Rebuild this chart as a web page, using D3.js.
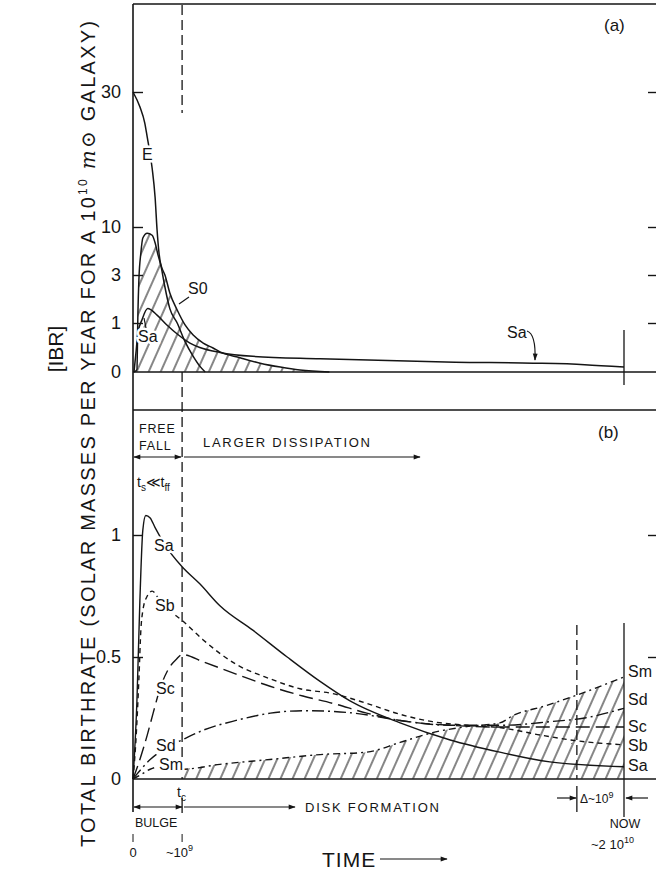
<!DOCTYPE html>
<html>
<head>
<meta charset="utf-8">
<script src="https://cdn.jsdelivr.net/npm/d3@7"></script>
<style>
  body { margin: 0; background: #fff; }
  text { font-family: "Liberation Sans", "DejaVu Sans", sans-serif; fill: #151515; }
</style>
</head>
<body>
<div id="chart"></div>
<script>
// time in schematic units: t_c = 1, NOW = 10
// panel (a) : birthrate, [t, value]
const aE  = [[0,30],[0.14,27.8],[0.24,25.4],[0.29,23.3],[0.39,18.7],[0.45,14.4],[0.49,9.6],[0.53,6.2],[0.59,3.6],[0.65,2.5],[0.75,1.6],[0.9,1.0],[1.06,0.62],[1.22,0.33],[1.36,0.12],[1.47,0]];
const aS0 = [[0.02,0],[0.08,0.05],[0.1,1.4],[0.12,2.8],[0.16,6.2],[0.2,8.4],[0.29,9.1],[0.39,8.8],[0.45,7.7],[0.51,5.9],[0.59,4.0],[0.65,3.0],[0.75,2.25],[0.9,1.54],[1.06,0.96],[1.22,0.76],[1.43,0.59],[1.63,0.49],[1.77,0.41],[2.18,0.29],[2.59,0.18],[3.0,0.1],[3.4,0.04],[4.0,0]];
const aSa = [[0.02,0],[0.06,0.39],[0.1,0.8],[0.18,1.12],[0.3,1.6],[0.49,1.33],[0.69,0.96],[0.92,0.76],[1.16,0.59],[1.36,0.5],[1.77,0.4],[2.44,0.32],[3.81,0.27],[6.56,0.2],[8.15,0.18],[9.2,0.15],[10,0.1]];
const aTicks = [0, 1, 3, 10, 30];

// panel (b)
const bSa = [[0,0],[0.08,0.32],[0.14,0.73],[0.2,1.02],[0.26,1.08],[0.35,1.07],[0.45,1.03],[0.65,0.96],[1.0,0.87],[1.36,0.8],[1.77,0.71],[2.44,0.61],[3.14,0.5],[3.81,0.4],[4.42,0.32],[5.44,0.23],[6.46,0.16],[7.47,0.11],[8.49,0.07],[10,0.05]];
const bSb = [[0,0],[0.06,0.16],[0.12,0.41],[0.16,0.61],[0.2,0.69],[0.29,0.75],[0.39,0.77],[0.55,0.73],[0.75,0.69],[1.0,0.65],[1.43,0.57],[2.1,0.47],[2.8,0.41],[3.4,0.37],[4.07,0.35],[4.76,0.31],[5.44,0.265],[6.1,0.235],[6.8,0.22],[7.5,0.21],[8.3,0.18],[9.1,0.155],[10,0.14]];
const bSc = [[0,0],[0.14,0.08],[0.29,0.18],[0.41,0.27],[0.55,0.37],[0.75,0.46],[0.88,0.49],[1.0,0.51],[1.43,0.48],[2.1,0.43],[2.79,0.38],[3.46,0.34],[4.07,0.31],[4.76,0.27],[5.44,0.24],[6.46,0.22],[7.5,0.213],[8.7,0.213],[10,0.213]];
const bSd = [[0,0],[0.08,0.02],[0.35,0.08],[0.7,0.13],[1.0,0.16],[1.43,0.2],[2.1,0.24],[2.8,0.27],[3.5,0.28],[4.5,0.27],[5.44,0.24],[6.46,0.22],[7.5,0.22],[8.5,0.235],[9.2,0.25],[10,0.29]];
const bSm = [[0,0],[0.14,0.015],[0.35,0.04],[0.55,0.05],[1.0,0.04],[1.77,0.06],[2.79,0.08],[3.81,0.1],[4.76,0.11],[5.44,0.15],[6.1,0.19],[6.8,0.215],[7.47,0.23],[7.74,0.26],[8.4,0.3],[9.04,0.344],[10,0.418]];
const bTicks = [0, 0.5, 1];

const tC = 1, tDelta = 9.04, tNow = 10;

const W = 656, H = 871;
const svg = d3.select("#chart").append("svg").attr("width", W).attr("height", H);

const x = d3.scaleLinear().domain([0, 10]).range([133, 624]);
const ya = d3.scaleLinear().domain(aTicks).range([372, 323, 275, 227, 92]);
const yb = d3.scaleLinear().domain([0, 1]).range([779, 535]);

const defs = svg.append("defs");
const hatch = defs.append("pattern")
  .attr("id", "hatch")
  .attr("patternUnits", "userSpaceOnUse")
  .attr("width", 11).attr("height", 11)
  .attr("patternTransform", "rotate(24)");
hatch.append("line")
  .attr("x1", 1).attr("y1", 0).attr("x2", 1).attr("y2", 11)
  .attr("stroke", "#222").attr("stroke-width", 1.1);

defs.append("marker")
  .attr("id", "arr")
  .attr("viewBox", "0 0 10 10")
  .attr("refX", 9).attr("refY", 5)
  .attr("markerWidth", 9).attr("markerHeight", 7)
  .attr("markerUnits", "userSpaceOnUse")
  .attr("orient", "auto-start-reverse")
  .append("path").attr("d", "M0,1.5 L10,5 L0,8.5 Z").attr("fill", "#151515");

const ink = "#151515";

// frame lines
function hline(y, x1, x2) {
  svg.append("line").attr("x1", x1).attr("x2", x2).attr("y1", y).attr("y2", y)
    .attr("stroke", ink).attr("stroke-width", 1.6);
}
hline(4, 133, W);
hline(ya(0), 133, W);
hline(410, 133, W);
hline(yb(0), 133, W);
svg.append("line").attr("x1", 133).attr("x2", 133).attr("y1", 4).attr("y2", 812)
  .attr("stroke", ink).attr("stroke-width", 1.6);

// axes (ticks inward)
const axA = svg.append("g").attr("transform", "translate(133,0)")
  .call(d3.axisLeft(ya).tickValues(aTicks).tickSizeInner(-10).tickSizeOuter(0).tickPadding(12).tickFormat(d3.format("d")));
const axB = svg.append("g").attr("transform", "translate(133,0)")
  .call(d3.axisLeft(yb).tickValues(bTicks).tickSizeInner(-10).tickSizeOuter(0).tickPadding(12).tickFormat(d => d === 0.5 ? "0.5" : d));
const axAR = svg.append("g").attr("transform", `translate(${W},0)`)
  .call(d3.axisRight(ya).tickValues(aTicks.slice(1)).tickSizeInner(-8).tickSizeOuter(0).tickFormat(""));
const axBR = svg.append("g").attr("transform", `translate(${W},0)`)
  .call(d3.axisRight(yb).tickValues([0.5, 1]).tickSizeInner(-8).tickSizeOuter(0).tickFormat(""));
[axA, axB, axAR, axBR].forEach(g => {
  g.select(".domain").remove();
  g.selectAll("line").attr("stroke", ink).attr("stroke-width", 1.4);
  g.selectAll("text").attr("font-size", 18).attr("fill", ink).style("font-family", "'Liberation Sans', sans-serif");
});
axB.selectAll(".tick").filter(d => d === 0).select("line").remove();
axA.selectAll(".tick").filter(d => d === 0).select("line").remove();

// hatched areas
const areaA = d3.area().x(d => x(d[0])).y0(ya(0)).y1(d => ya(d[1])).curve(d3.curveMonotoneX);
svg.append("path").datum(aS0).attr("d", areaA).attr("fill", "url(#hatch)");
const areaB = d3.area().x(d => x(d[0])).y0(yb(0)).y1(d => yb(d[1])).curve(d3.curveMonotoneX);
svg.append("path").datum(bSm.filter(d => d[0] >= tC)).attr("d", areaB).attr("fill", "url(#hatch)");

// vertical markers
function vline(t, y1, y2, dash, w) {
  svg.append("line").attr("x1", x(t)).attr("x2", x(t)).attr("y1", y1).attr("y2", y2)
    .attr("stroke", ink).attr("stroke-width", w || 1.3).attr("stroke-dasharray", dash);
}
vline(tC, 5, 113, "10,5");
vline(tC, ya(0), yb(0), "10,5");
vline(tC, 798, 813, null);
vline(tNow, 330, 385, null);
vline(tNow, 623, 817, null);
vline(tDelta, 625, yb(0), "10,5");
vline(tDelta, 786, 812, null);
vline(0, 834, 842, null, 1);
vline(tC, 834, 842, null, 1);

// curves
const lineA = d3.line().x(d => x(d[0])).y(d => ya(d[1])).curve(d3.curveMonotoneX);
const lineB = d3.line().x(d => x(d[0])).y(d => yb(d[1])).curve(d3.curveMonotoneX);
[aE, aS0, aSa].forEach(s => {
  svg.append("path").datum(s).attr("d", lineA).attr("fill", "none")
    .attr("stroke", ink).attr("stroke-width", 1.5);
});
const seriesB = [
  { data: bSa, dash: null },
  { data: bSb, dash: "5,4" },
  { data: bSc, dash: "14,6" },
  { data: bSd, dash: "12,4,2,4" },
  { data: bSm, dash: "7,4,2,4" }
];
seriesB.forEach(s => {
  svg.append("path").datum(s.data).attr("d", lineB).attr("fill", "none")
    .attr("stroke", ink).attr("stroke-width", 1.4).attr("stroke-dasharray", s.dash);
});

// labels with white halo (breaks the curves like the original)
function label(txt, lx, ly, size, halo) {
  const t = svg.append("text").attr("x", lx).attr("y", ly).attr("font-size", size || 15).text(txt);
  if (halo) t.attr("stroke", "#fff").attr("stroke-width", 5).attr("paint-order", "stroke");
  return t;
}
label("E", 142, 160, 16, true);
label("S0", 188, 294, 16, true);
label("Sa", 138, 342, 16, true);
svg.append("line").attr("x1", 189).attr("y1", 297).attr("x2", 179).attr("y2", 304).attr("stroke", ink).attr("stroke-width", 1.2);
svg.append("line").attr("x1", 146).attr("y1", 328).attr("x2", 144).attr("y2", 318).attr("stroke", ink).attr("stroke-width", 1.2);
label("Sa", 507, 338, 16);
svg.append("path").attr("d", "M527,331 Q536,334 535,360").attr("fill", "none")
  .attr("stroke", ink).attr("stroke-width", 1.2).attr("marker-end", "url(#arr)");
label("(a)", 604, 31, 17);

label("Sa", 154, 551, 16, true);
label("Sb", 155, 611, 16, true);
label("Sc", 156, 694, 16, true);
label("Sd", 156, 751, 16, true);
label("Sm", 159, 770, 16, true);
["Sm", "Sd", "Sc", "Sb", "Sa"].forEach((n, i) => label(n, 628, [677, 705, 732, 751, 771][i], 16));
label("(b)", 598, 438, 17);

// time annotations, panel (b)
label("FREE", 139, 433, 12.5).attr("letter-spacing", 0.8);
label("FALL", 139, 450, 12.5).attr("letter-spacing", 0.8);
label("LARGER DISSIPATION", 203, 447, 13).attr("textLength", 167);
function arrow(x1, y1, x2, y2, both) {
  const l = svg.append("line").attr("x1", x1).attr("y1", y1).attr("x2", x2).attr("y2", y2)
    .attr("stroke", ink).attr("stroke-width", 1.2).attr("marker-end", "url(#arr)");
  if (both) l.attr("marker-start", "url(#arr)");
}
arrow(134, 457, 181, 457, true);
arrow(184, 457, 420, 457);
const ts = label("", 137, 487, 14);
ts.append("tspan").text("t");
ts.append("tspan").attr("font-size", 10).attr("dy", 4).text("s");
ts.append("tspan").attr("dy", -4).text("\u226A");
ts.append("tspan").text("t");
ts.append("tspan").attr("font-size", 10).attr("dy", 4).text("ff");

// below panel (b)
const tc = label("", 177, 797, 14);
tc.append("tspan").text("t");
tc.append("tspan").attr("font-size", 10).attr("dy", 4).text("c");
arrow(134, 807, 182, 807, true);
arrow(184, 807, 295, 807);
label("DISK FORMATION", 305, 812, 13).attr("textLength", 134);
label("BULGE", 135, 827, 12.5);
label("0", 133, 857, 13).attr("text-anchor", "middle");
const t9 = label("~10", 166, 857, 13);
t9.append("tspan").attr("font-size", 9).attr("dy", -6).text("9");
label("NOW", 625, 828, 12.5).attr("text-anchor", "middle");
const t10 = label("~2  10", 591, 849, 13);
t10.append("tspan").attr("font-size", 9).attr("dy", -6).text("10");
const dl = label("\u0394~10", 580, 803, 12);
dl.append("tspan").attr("font-size", 9).attr("dy", -5).text("9");
arrow(557, 798, 576, 798);
arrow(648, 798, 626, 798);
label("TIME", 322, 867, 21).attr("letter-spacing", 1);
arrow(380, 859, 447, 859);

// y-axis title
const yt = svg.append("text")
  .attr("transform", "translate(95,847) rotate(-90)")
  .attr("font-size", 20)
  .attr("textLength", 826).attr("lengthAdjust", "spacing");
yt.append("tspan").text("TOTAL BIRTHRATE (SOLAR MASSES PER YEAR FOR A 10");
yt.append("tspan").attr("font-size", 12).attr("dy", -8).text("10");
yt.append("tspan").attr("dy", 8).text(" ");
yt.append("tspan").attr("font-family", "'DejaVu Serif', serif").attr("font-style", "italic").text("m\u2299");
yt.append("tspan").text(" GALAXY)");
svg.append("text")
  .attr("transform", "translate(63,349) rotate(-90)")
  .attr("text-anchor", "middle")
  .attr("font-size", 21)
  .text("[IBR]");
</script>
</body>
</html>
